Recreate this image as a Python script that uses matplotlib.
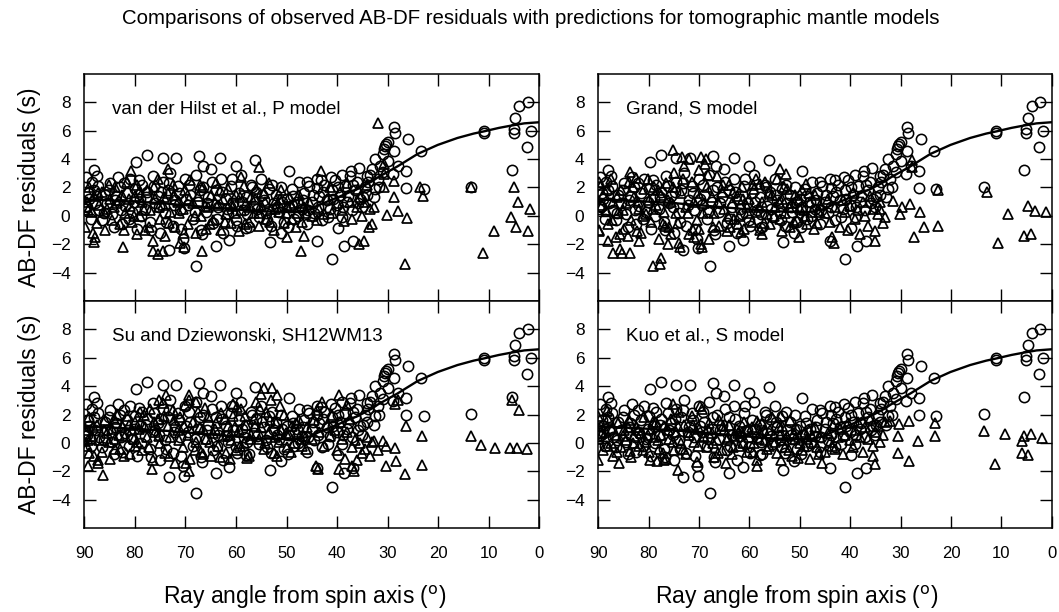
import numpy as np
import matplotlib.pyplot as plt

plt.rcParams['font.family'] = ['Liberation Sans', 'DejaVu Sans']

# --- Observed AB-DF residuals (ray angle deg, residual s) ---
obs_pts = [
    # sparse polar / high residual part
    (2.3, 8.0), (4.0, 7.72), (4.8, 6.88), (5.1, 6.12), (5.1, 5.82), (1.7, 5.96), (2.5, 4.88),
    (5.5, 3.26), (11.0, 5.96), (11.0, 5.82), (13.5, 2.01),
    (22.9, 1.9), (23.4, 4.6), (25.9, 5.42), (26.4, 3.19), (26.4, 1.94), (28.0, 3.54), (28.8, 6.24),
    (28.6, 5.82), (28.7, 4.55), (29.9, 5.18), (30.3, 5.07), (30.7, 4.71), (31.0, 4.36), (32.5, 4.0),
    (30.0, 3.89), (29.0, 2.95), (30.5, 4.9), (31.0, 3.1),
    (34.0, 2.83), (35.6, 3.35), (37.3, 3.19), (39.0, 2.9), (41.2, 2.72), (43.1, 2.53), (43.9, 1.96),
    (46.0, 2.36), (49.5, 3.19), (56.2, 3.94), (60.0, 3.54), (63.1, 4.08), (67.3, 4.22), (66.6, 3.54),
    (71.9, 4.08), (74.5, 4.08), (77.6, 4.31), (79.8, 3.82), (83.4, 2.72), (88.0, 3.23), (87.5, 2.83),
    (89.7, 2.76), (89.8, 0.5), (89.6, 0.7),
    # low outliers
    (67.9, -3.51), (41.1, -3.06), (44.0, -1.75), (38.7, -2.1), (36.9, -1.75), (39.9, -0.86),
    (53.3, -1.87), (61.3, -1.7), (64.0, -2.1), (58.0, -0.86), (73.2, -2.38), (70.2, -2.3), (51.1, -1.23),
    # main cloud
    (89.5, 0.6), (89.0, 1.2), (88.5, 2.4), (88.0, 1.8), (87.0, 0.4), (86.5, -0.3), (86.0, 1.5),
    (85.5, 0.9), (85.0, 2.3), (84.5, 0.1), (84.0, 1.1), (83.0, 2.0), (82.5, -0.6), (82.0, 0.7),
    (81.5, 1.6), (81.0, 2.6), (80.5, 0.3), (80.0, 1.9), (79.5, -0.9), (79.0, 1.2), (78.5, 2.2),
    (78.0, 0.5), (77.5, 1.7), (77.0, -0.4), (76.5, 2.8), (76.0, 0.9), (75.5, 1.4), (75.0, -1.2),
    (74.5, 2.4), (74.0, 0.2), (73.5, 1.8), (73.0, 3.0), (72.5, -0.7), (72.0, 1.1), (71.5, 2.1),
    (71.0, 0.4), (70.5, -1.6), (70.0, 2.6), (69.5, 0.8), (69.0, 1.5), (68.5, -0.2), (68.0, 2.9),
    (67.5, 1.0), (67.0, -1.0), (66.5, 2.0), (66.0, 0.3), (65.5, 1.3), (65.0, 3.3), (64.5, -0.5),
    (64.0, 1.8), (63.5, 0.6), (63.0, 2.6), (62.5, -1.2), (62.0, 1.2), (61.5, 0.1), (61.0, 2.1),
    (60.5, 0.9), (60.0, -0.3), (59.5, 1.6), (59.0, 2.9), (58.5, 0.4), (58.0, 1.3), (57.5, -0.8),
    (57.0, 2.2), (56.5, 0.7), (56.0, 1.7), (55.5, -0.1), (55.0, 2.6), (54.5, 1.1), (54.0, 0.2),
    (53.5, 1.9), (53.0, -0.7), (52.5, 0.9), (52.0, 1.5), (51.5, 0.3), (51.0, 2.0), (50.5, -0.4),
    (50.0, 1.2), (49.5, 0.6), (49.0, 1.9), (48.5, -0.2), (48.0, 1.0), (47.5, 2.4), (47.0, 0.5),
    (46.5, 1.6), (46.0, -0.6), (45.5, 2.1), (45.0, 1.0), (44.5, 0.2), (44.0, 2.6), (43.5, 1.4),
    (43.0, -0.3), (42.5, 2.2), (42.0, 1.1), (41.5, 0.5), (41.0, 1.8), (40.5, 2.5), (40.0, 0.8),
    (39.5, 1.5), (39.0, -0.1), (38.5, 2.1), (38.0, 1.0), (37.5, 2.8), (37.0, 0.4), (36.5, 1.8),
    (36.0, 2.4), (35.5, 1.2), (35.0, 0.6), (34.5, 2.0), (34.0, 1.5), (33.5, 2.9), (33.0, 3.3),
    (32.5, 1.9), (32.0, 2.6), (31.5, 3.5),
    (89.2, 1.6), (88.7, -0.2), (87.8, 0.9), (87.2, 2.1), (86.2, 0.2), (85.2, 1.8), (84.2, -0.8),
    (83.7, 1.4), (82.8, 0.4), (82.2, 2.3), (81.2, -0.2), (80.2, 1.0), (79.2, 2.5), (78.7, 0.0),
    (77.8, 1.3), (76.8, -1.0), (76.2, 2.1), (75.2, 0.6), (74.8, 1.7), (73.8, -0.4), (73.2, 2.3),
    (72.2, 0.8), (71.2, 1.6), (70.8, -0.9), (69.8, 1.2), (69.2, 2.2), (68.2, 0.3), (67.2, 1.8),
    (66.8, -1.3), (65.8, 0.9), (64.8, 2.4), (63.8, -0.2), (62.8, 1.7), (61.8, 0.5), (60.8, 2.6),
    (59.8, -0.7), (58.8, 1.0), (57.8, 0.1), (56.8, 2.0), (55.8, 0.5), (54.8, 1.5), (53.8, -0.3),
    (52.8, 2.2), (51.8, 0.6), (50.8, 1.0), (49.8, -0.8), (48.8, 1.4), (47.8, 0.0), (46.8, 1.1),
    (45.8, 0.4), (44.8, 1.5), (43.8, 0.6), (42.8, 1.7), (41.8, -0.1), (40.8, 1.2), (39.8, 2.0),
    (38.8, 0.6), (37.8, 1.4), (36.8, 2.2), (35.8, 0.9), (34.8, 1.3), (33.8, 2.4), (32.8, 1.3),
    (31.8, 2.0),
]

# --- Fitted anisotropy curve ---
curve_angle = [90, 85, 80, 75, 70, 65, 60, 55, 50, 47.8, 45, 43.9, 42, 39.9, 37, 35.9, 33,
               32, 28, 24.1, 20.1, 16.2, 13, 10.9, 8, 5.6, 3, 0]
curve_resid = [1.15, 1.1, 1.0, 0.9, 0.75, 0.6, 0.45, 0.32, 0.28, 0.27, 0.5, 0.72, 1.0, 1.3,
               1.75, 1.9, 2.45, 2.7, 3.5, 4.36, 5.0, 5.49, 5.8, 5.96, 6.2, 6.36, 6.52, 6.6]

# --- Predicted residuals, one list per tomographic model ---
pred_vdh = [
    (32.0, 6.52), (5.0, 2.01), (4.2, 0.95), (1.8, 0.48), (5.6, -0.1), (4.6, -0.81), (2.3, -1.04),
    (9.05, -1.04), (11.2, -2.62), (13.5, 2.06), (23.6, 2.06), (23.1, 1.42), (26.6, -3.39),
    (26.1, -0.15), (28.0, 0.37), (30.1, 0.08), (28.7, 1.35), (30.7, 2.01), (30.7, 2.95), (30.7, 3.65),
    (28.7, 2.48), (32.7, 0.6), (33.6, -0.81), (34.6, -1.75), (35.6, -1.98), (35.8, 1.9), (43.1, 3.14),
    (46.5, -1.44), (47.2, -2.5), (55.4, 3.42), (59.0, 2.72), (66.7, -2.45), (82.4, -2.22),
    (88.0, -1.87), (87.9, -1.47), (75.5, -2.69), (76.5, -2.45), (74.5, -2.45), (70.2, -2.22),
    (73.5, 3.3), (80.8, 3.19), (79.5, -1.28), (49.9, -1.51), (42.5, 0.13), (38.6, -0.34),
    (89.8, -0.8), (89.5, 1.0), (89.0, 2.0), (88.5, 0.3), (88.0, 1.4), (87.5, -0.5), (87.0, 0.8),
    (86.5, 1.7), (86.0, -1.0), (85.5, 0.5), (85.0, 1.2), (84.5, -0.3), (84.0, 2.0), (83.5, 0.9),
    (83.0, -0.6), (82.5, 1.5), (82.0, 0.2), (81.5, 2.4), (81.0, 0.7), (80.5, -0.4), (80.0, 1.4),
    (79.5, 2.2), (79.0, 0.0), (78.5, 1.0), (78.0, -1.0), (77.5, 1.8), (77.0, 0.4), (76.5, -1.8),
    (76.0, 1.2), (75.5, 2.6), (75.0, -0.2), (74.5, 0.8), (74.0, -1.4), (73.5, 1.6), (73.0, 0.3),
    (72.5, 2.2), (72.0, -0.8), (71.5, 1.0), (71.0, -1.9), (70.5, 0.5), (70.0, 1.8), (69.5, -0.6),
    (69.0, 2.5), (68.5, 0.9), (68.0, -1.2), (67.5, 1.4), (67.0, 0.0), (66.5, 2.0), (66.0, -0.9),
    (65.5, 0.6), (65.0, 1.5), (64.5, -0.3), (64.0, 2.3), (63.5, 0.8), (63.0, -1.0), (62.5, 1.2),
    (62.0, 0.1), (61.5, 1.9), (61.0, -0.5), (60.5, 0.7), (60.0, 1.5), (59.5, -1.1), (59.0, 0.4),
    (58.5, 2.1), (58.0, 0.9), (57.5, -0.4), (57.0, 1.3), (56.5, 0.2), (56.0, 1.9), (55.5, -0.7),
    (55.0, 0.8), (54.5, 1.6), (54.0, -0.2), (53.5, 2.3), (53.0, 0.5), (52.5, -1.0), (52.0, 1.1),
    (51.5, 0.3), (51.0, 1.8), (50.5, -0.5), (50.0, 0.7), (49.5, 1.3), (49.0, -0.2), (48.5, 0.9),
    (48.0, 0.2), (47.5, 1.5), (47.0, -0.4), (46.5, 0.6), (45.5, 1.0), (45.0, 0.0), (44.0, -0.3),
    (43.5, 0.5), (42.0, 1.2), (41.5, 2.0), (41.0, 0.2), (40.0, 0.9), (39.5, 1.7), (39.0, 0.4),
    (38.0, 2.3), (37.5, 1.0), (37.0, -0.2), (36.0, 0.6), (35.5, 1.3), (35.0, 0.0), (34.5, 1.0),
    (34.0, 2.2), (33.5, 0.5), (33.0, -0.6),
    (89.2, 0.4), (88.2, -1.2), (87.2, 1.6), (86.2, 0.3), (85.2, 2.2), (84.2, 0.6), (83.2, 1.1),
    (82.2, -1.0), (81.2, 1.2), (80.2, 0.0), (79.2, 1.7), (78.2, 0.4), (77.2, -0.8), (76.2, 2.0),
    (75.2, 0.6), (74.2, 1.3), (73.2, -0.5), (72.2, 1.5), (71.2, 0.2), (70.2, -1.2), (69.2, 1.2),
    (68.2, 0.0), (67.2, 2.2), (66.2, 0.7), (65.2, -0.6), (64.2, 0.9), (63.2, 1.8), (62.2, -0.4),
    (61.2, 0.9), (60.2, 0.2), (59.2, 1.3), (58.2, -0.6), (57.2, 0.6), (56.2, 1.2), (55.2, 0.2),
    (54.2, 1.0), (53.2, -0.4), (52.2, 0.5), (51.2, 1.2), (50.2, 0.2), (49.2, 0.8), (48.2, -0.8),
    (47.2, 0.9), (46.2, 0.2),
]

pred_grand = [
    (12.9, 1.67), (10.6, -1.88), (8.6, 0.13), (4.8, 0.73), (3.4, 0.37), (1.2, 0.25), (5.5, -1.4),
    (4.1, -1.28), (22.6, -0.7), (22.5, 1.79), (25.4, -0.81), (26.1, 0.25), (27.4, -1.52),
    (28.1, 0.84), (29.8, 0.61), (30.2, 0.13), (31.6, 1.08), (27.8, 3.91), (27.8, 3.44), (33.0, -0.1),
    (35.0, -1.75), (34.0, 0.49), (43.6, -1.52), (43.2, -1.88), (79.2, -3.53), (77.5, -2.94),
    (77.7, -3.41), (87.1, -2.65), (85.4, -2.65), (83.7, -2.65), (85.7, -2.35), (88.1, -1.75),
    (89.9, -1.05), (85.7, -1.28), (82.3, -1.05), (82.0, -1.75), (76.1, -2.0), (73.7, -2.23),
    (75.1, 4.67), (73.4, 4.15), (72.0, 4.03), (69.6, 4.15), (68.6, 4.03), (68.9, 3.67), (83.7, 3.09),
    (89.9, 2.38), (53.9, 3.32), (52.8, 2.97), (58.7, 2.62), (58.0, 2.26), (48.7, 2.26), (71.0, -1.52),
    (69.6, -1.99), (70.0, -0.93), (63.8, -0.81), (61.7, -1.17), (57.6, -1.28), (53.5, -1.05),
    (50.1, -1.52), (76.8, -0.69), (75.5, -1.28),
    (89.8, -1.0), (89.5, 2.2), (89.0, 1.5), (88.5, 0.4), (88.0, -0.6), (87.5, 2.6), (87.0, 1.0),
    (86.5, -1.5), (86.0, 0.2), (85.5, 1.8), (85.0, -0.9), (84.5, 0.9), (84.0, 2.4), (83.5, -0.3),
    (83.0, 1.3), (82.5, 2.7), (82.0, 0.5), (81.5, -1.2), (81.0, 1.9), (80.5, 0.1), (80.0, 1.1),
    (79.5, -0.4), (79.0, 2.0), (78.5, 0.8), (78.0, -1.6), (77.5, 1.5), (77.0, 0.3), (76.5, 2.3),
    (76.0, -0.8), (75.5, 1.0), (75.0, 3.0), (74.5, 0.2), (74.0, -1.9), (73.5, 1.6), (73.0, 3.5),
    (72.5, 0.6), (72.0, -1.3), (71.5, 2.4), (71.0, 1.0), (70.5, -0.3), (70.0, 3.2), (69.5, -2.2),
    (69.0, 0.9), (68.5, 2.0), (68.0, -1.6), (67.5, 1.3), (67.0, 0.2), (66.5, 2.8), (66.0, -0.7),
    (65.5, 1.7), (65.0, 0.5), (64.5, -1.1), (64.0, 2.2), (63.5, 0.9), (63.0, -0.2), (62.5, 1.4),
    (62.0, 0.0), (61.5, 2.0), (61.0, -0.9), (60.5, 0.6), (60.0, 1.2), (59.5, -0.4), (59.0, 1.9),
    (58.5, 0.3), (58.0, -1.0), (57.5, 1.0), (57.0, 2.4), (56.5, 0.1), (56.0, -0.6), (55.5, 1.5),
    (55.0, 0.6), (54.5, 2.6), (54.0, -0.2), (53.5, 1.2), (53.0, 0.2), (52.5, 1.9), (52.0, -0.8),
    (51.5, 0.9), (51.0, 1.5), (50.5, -0.3), (50.0, 0.5), (49.5, 1.8), (49.0, 0.0), (48.5, -0.6),
    (48.0, 1.0), (47.5, 0.3), (47.0, 1.5), (46.5, -0.5), (46.0, 0.8), (45.0, 0.2), (44.5, 1.2),
    (44.0, -0.4), (43.0, 0.6), (42.0, -0.8), (41.5, 1.1), (41.0, 0.3), (40.5, -1.0), (40.0, 0.7),
    (39.5, 1.6), (39.0, -0.2), (38.5, 0.4), (38.0, -1.3), (37.5, 1.0), (37.0, 0.0), (36.5, -0.7),
    (36.0, 1.4), (35.5, 0.5), (35.0, -1.1), (34.5, 0.1), (34.0, 1.0), (33.5, -0.5),
    (89.2, 0.8), (88.2, 1.9), (87.2, -0.3), (86.2, 1.3), (85.2, 0.4), (84.2, -1.4), (83.2, 2.0),
    (82.2, 1.0), (81.2, 0.0), (80.2, 2.6), (79.2, 0.5), (78.2, 1.8), (77.2, -0.6), (76.2, 1.1),
    (75.2, 2.0), (74.2, -0.5), (73.2, 2.6), (72.2, 0.2), (71.2, -1.0), (70.2, 1.6), (69.2, 0.2),
    (68.2, 2.9), (67.2, -0.8), (66.2, 1.0), (65.2, 2.2), (64.2, 0.0), (63.2, 1.6), (62.2, -0.6),
    (61.2, 1.2), (60.2, 0.2), (59.2, 2.2), (58.2, 0.6), (57.2, -0.5), (56.2, 1.6), (55.2, 0.0),
    (54.2, 1.0), (53.2, 2.0), (52.2, 0.6), (51.2, -0.4), (50.2, 1.1), (49.2, 0.4), (48.2, 1.6),
    (47.2, -0.9), (46.2, 0.3),
]

pred_su = [
    (13.5, 0.52), (11.5, -0.15), (8.8, -0.32), (5.8, -0.32), (4.5, -0.32), (2.5, -0.39), (5.4, 3.0),
    (4.1, 2.3), (23.3, 0.52), (23.3, -1.57), (26.3, 1.23), (26.6, -2.2), (28.3, -1.27), (28.6, -0.32),
    (30.3, -1.62), (30.3, -0.2), (28.6, 2.77), (27.9, 3.0), (31.0, 0.16), (32.7, 0.16), (35.0, -0.67),
    (37.0, -1.62), (36.7, -1.98), (39.7, -1.86), (43.7, -1.86), (44.1, -1.62), (39.7, 3.37),
    (38.0, 2.65), (86.3, -2.22), (90.0, 0.16), (89.0, -0.67), (89.3, -1.62), (87.3, -1.39),
    (76.6, -1.86), (73.9, 3.37), (75.2, 3.0), (69.2, 3.37), (67.9, 2.89), (54.5, 3.84), (52.8, 3.84),
    (51.8, 3.37), (55.1, 3.48), (60.5, 2.77), (59.8, 2.53), (69.9, -1.39), (69.2, -1.98), (66.5, -0.8),
    (61.2, -1.15), (57.8, -1.04), (51.8, -0.91), (79.9, -0.2), (84.0, -0.43),
    (89.8, 0.9), (89.5, -0.2), (89.0, 1.8), (88.5, 0.5), (88.0, -0.9), (87.5, 1.3), (87.0, 0.2),
    (86.5, -0.6), (86.0, 1.6), (85.5, 0.7), (85.0, -1.1), (84.5, 1.0), (84.0, 0.3), (83.5, 2.0),
    (83.0, -0.4), (82.5, 1.2), (82.0, 0.5), (81.5, 1.9), (81.0, -0.8), (80.5, 0.9), (80.0, 1.5),
    (79.5, 0.1), (79.0, 2.2), (78.5, -0.5), (78.0, 1.1), (77.5, 0.4), (77.0, 2.4), (76.5, -1.2),
    (76.0, 0.8), (75.5, 1.7), (75.0, 0.0), (74.5, 2.8), (74.0, -0.7), (73.5, 1.2), (73.0, 0.4),
    (72.5, 2.3), (72.0, -1.4), (71.5, 0.9), (71.0, 1.8), (70.5, -0.3), (70.0, 2.7), (69.5, 0.6),
    (69.0, -1.1), (68.5, 1.5), (68.0, 0.1), (67.5, 2.2), (67.0, -0.6), (66.5, 1.0), (66.0, 0.3),
    (65.5, 1.8), (65.0, -0.9), (64.5, 0.7), (64.0, 1.4), (63.5, -0.2), (63.0, 2.1), (62.5, 0.5),
    (62.0, -0.7), (61.5, 1.2), (61.0, 0.2), (60.5, 1.9), (60.0, -0.5), (59.5, 0.9), (59.0, 2.4),
    (58.5, 0.0), (58.0, 1.3), (57.5, -0.9), (57.0, 0.6), (56.5, 1.7), (56.0, 2.9), (55.5, 0.3),
    (55.0, 1.1), (54.5, -0.4), (54.0, 2.2), (53.5, 0.8), (53.0, 3.0), (52.5, -0.7), (52.0, 1.4),
    (51.5, 0.1), (51.0, 0.9), (50.5, 2.0), (50.0, -0.3), (49.5, 0.6), (49.0, 1.2), (48.5, 0.0),
    (48.0, 0.8), (47.5, 1.6), (47.0, -0.2), (46.5, 0.5), (46.0, 1.1), (45.0, 0.3), (44.5, 1.6),
    (44.0, 2.3), (43.5, 0.8), (43.0, 2.9), (42.5, -0.2), (42.0, 1.3), (41.5, 0.5), (41.0, 2.0),
    (40.5, 0.9), (40.0, -0.5), (39.5, 1.5), (39.0, 0.3), (38.5, -1.1), (38.0, 0.8), (37.5, 1.7),
    (37.0, -0.3), (36.5, 0.2), (36.0, -1.2), (35.5, 0.0), (34.5, -0.4), (34.0, 0.4), (33.5, -0.9),
    (33.0, 0.1), (32.0, -0.5),
    (89.2, 0.2), (88.2, 1.1), (87.2, -1.2), (86.2, 0.9), (85.2, 0.1), (84.2, 1.7), (83.2, 0.6),
    (82.2, -0.9), (81.2, 1.3), (80.2, 0.3), (79.2, 1.0), (78.2, 2.0), (77.2, -0.3), (76.2, 1.5),
    (75.2, 0.5), (74.2, 1.9), (73.2, -0.9), (72.2, 1.6), (71.2, 0.2), (70.2, 1.2), (69.2, 3.0),
    (68.2, -0.5), (67.2, 1.1), (66.2, 2.5), (65.2, 0.1), (64.2, 1.0), (63.2, -1.0), (62.2, 1.7),
    (61.2, 0.6), (60.2, 1.1), (59.2, -0.2), (58.2, 1.9), (57.2, 0.3), (56.2, 1.2), (55.2, 2.4),
    (54.2, 0.0), (53.2, 1.6), (52.2, 0.4), (51.2, 2.6), (50.2, 0.7), (49.2, -0.6), (48.2, 1.4),
    (47.2, 0.3), (46.2, -0.4),
]

pred_kuo = [
    (13.5, 0.84), (11.2, -1.51), (9.2, 0.61), (5.5, 0.49), (4.1, 0.61), (1.9, 0.37), (5.8, -0.69),
    (4.8, -0.81), (5.8, 0.13), (23.2, 1.43), (23.2, 0.49), (26.6, 0.13), (28.3, -1.28), (28.3, 1.55),
    (30.3, 1.32), (30.6, 0.49), (32.0, 1.55), (30.6, -0.69), (35.4, -0.93), (35.1, -1.51),
    (45.6, -1.4), (43.6, -0.22), (85.8, -1.4), (90.0, -1.16), (90.0, 1.9), (88.2, 2.26),
    (74.2, -1.87), (75.2, 2.73), (69.8, 2.61), (79.7, -1.16), (78.3, -1.28), (76.9, -1.2),
    (83.7, -0.57), (64.7, -1.4), (58.5, -1.64), (53.8, -1.16), (50.4, -1.05), (58.5, 1.55),
    (53.8, 1.9),
    (89.8, 0.3), (89.5, 1.2), (89.0, -0.5), (88.5, 0.8), (88.0, 1.7), (87.5, 0.0), (87.0, -0.9),
    (86.5, 0.6), (86.0, 1.4), (85.5, -0.3), (85.0, 0.9), (84.5, 0.2), (84.0, 1.6), (83.5, -1.0),
    (83.0, 0.5), (82.5, 1.1), (82.0, -0.2), (81.5, 0.7), (81.0, 1.8), (80.5, 0.1), (80.0, -0.6),
    (79.5, 1.0), (79.0, 0.4), (78.5, 1.5), (78.0, -0.4), (77.5, 0.6), (77.0, 1.2), (76.5, -1.1),
    (76.0, 0.3), (75.5, 1.7), (75.0, -0.5), (74.5, 0.8), (74.0, 2.2), (73.5, 0.0), (73.0, 1.3),
    (72.5, -0.8), (72.0, 0.6), (71.5, 1.9), (71.0, 0.1), (70.5, -1.3), (70.0, 1.0), (69.5, 2.4),
    (69.0, 0.4), (68.5, -0.3), (68.0, 1.4), (67.5, 0.7), (67.0, -1.0), (66.5, 0.2), (66.0, 1.6),
    (65.5, -0.5), (65.0, 0.9), (64.5, 0.3), (64.0, 1.3), (63.5, -0.8), (63.0, 0.5), (62.5, 1.0),
    (62.0, -0.2), (61.5, 0.8), (61.0, 1.5), (60.5, -0.6), (60.0, 0.4), (59.5, 1.1), (59.0, 0.0),
    (58.5, -1.2), (58.0, 0.7), (57.5, 1.4), (57.0, 0.2), (56.5, -0.4), (56.0, 0.9), (55.5, 1.8),
    (55.0, 0.1), (54.5, -0.7), (54.0, 0.6), (53.5, 1.2), (53.0, -0.3), (52.5, 0.5), (52.0, 1.6),
    (51.5, -0.9), (51.0, 0.3), (50.5, 1.0), (50.0, 0.0), (49.5, -0.5), (49.0, 0.8), (48.5, 0.3),
    (48.0, -1.1), (47.5, 0.5), (47.0, 1.1), (46.5, -0.3), (46.0, 0.4), (45.0, -0.6), (44.5, 0.7),
    (44.0, 0.1), (43.5, 1.3), (43.0, -0.4), (42.5, 0.4), (42.0, 1.0), (41.5, -0.8), (41.0, 0.6),
    (40.5, 1.4), (40.0, 0.2), (39.5, -0.3), (39.0, 0.9), (38.5, 1.5), (38.0, 0.4), (37.5, -0.6),
    (37.0, 1.1), (36.5, 0.3), (36.0, 1.7), (35.5, -0.2), (35.0, 0.8), (34.5, 1.2), (34.0, 0.1),
    (33.5, 0.6), (33.0, 1.5),
    (89.2, 0.7), (88.2, -0.2), (87.2, 1.0), (86.2, -0.6), (85.2, 0.5), (84.2, 1.1), (83.2, 0.0),
    (82.2, 0.9), (81.2, -0.5), (80.2, 0.6), (79.2, 1.5), (78.2, 0.2), (77.2, -0.7), (76.2, 0.9),
    (75.2, 0.1), (74.2, 1.2), (73.2, -0.4), (72.2, 0.8), (71.2, 1.3), (70.2, -0.2), (69.2, 0.5),
    (68.2, 1.0), (67.2, 0.0), (66.2, -0.7), (65.2, 1.2), (64.2, 0.4), (63.2, -0.3), (62.2, 0.7),
    (61.2, 0.0), (60.2, 1.0), (59.2, -0.6), (58.2, 0.3), (57.2, 0.9), (56.2, -0.2), (55.2, 0.6),
    (54.2, 1.1), (53.2, 0.2), (52.2, -0.5), (51.2, 0.7), (50.2, 0.4), (49.2, -0.2), (48.2, 0.9),
    (47.2, 0.1), (46.2, -0.8),
]

panel_labels = ['van der Hilst et al., P model', 'Grand, S model',
                'Su and Dziewonski, SH12WM13', 'Kuo et al., S model']
panel_preds = [pred_vdh, pred_grand, pred_su, pred_kuo]
x_ticks = [90, 80, 70, 60, 50, 40, 30, 20, 10, 0]
y_ticks = [-4, -2, 0, 2, 4, 6, 8]

# axes boxes [left, bottom, width, height] in figure fraction
boxes = [[0.0796, 0.5082, 0.4297, 0.3709], [0.565, 0.5082, 0.4281, 0.3709],
         [0.0796, 0.1368, 0.4297, 0.3714], [0.565, 0.1368, 0.4281, 0.3714]]

fig = plt.figure(figsize=(10.59, 6.12), dpi=100)
obs = np.array(obs_pts)

for i in range(4):
    ax = fig.add_axes(boxes[i])
    pred = np.array(panel_preds[i])
    ax.plot(obs[:, 0], obs[:, 1], 'o', mfc='none', mec='k', ms=7.4, mew=1.15)
    ax.plot(pred[:, 0], pred[:, 1], '^', mfc='none', mec='k', ms=7.8, mew=1.25)
    ax.plot(curve_angle, curve_resid, color='k', lw=1.7)

    ax.set_xlim(90, 0)
    ax.set_ylim(-6, 10)
    ax.set_xticks(x_ticks)
    ax.set_yticks(y_ticks)
    ax.tick_params(direction='in', top=True, right=True, length=8.5, width=1.0)
    ax.tick_params(axis='y', labelsize=12.5, pad=10)
    ax.tick_params(axis='x', labelsize=12, pad=13)
    for sp in ax.spines.values():
        sp.set_linewidth(1.1)
    if i < 2:
        ax.tick_params(labelbottom=False)

    ax.text(0.061, 0.846, panel_labels[i], transform=ax.transAxes,
            va='center', ha='left', fontsize=13.5)

# y labels, only on the left column
for yc in [(74 + 301) / 2, (301 + 528.3) / 2]:
    fig.text(30 / 1059, 1 - yc / 612, 'AB-DF residuals (s)', rotation=90,
             ha='center', va='center', fontsize=16.5)

# x labels, under the bottom row
for xc in [305 / 1059, 797 / 1059]:
    fig.text(xc, 1 - 597 / 612, r'Ray angle from spin axis ($^{\mathrm{o}}$)',
             ha='center', va='center', fontsize=16.5)

fig.text(0.501, 1 - 18 / 612,
         'Comparisons of observed AB-DF residuals with predictions for tomographic mantle models',
         ha='center', va='center', fontsize=14.7)

plt.savefig('out.png', dpi=100)
